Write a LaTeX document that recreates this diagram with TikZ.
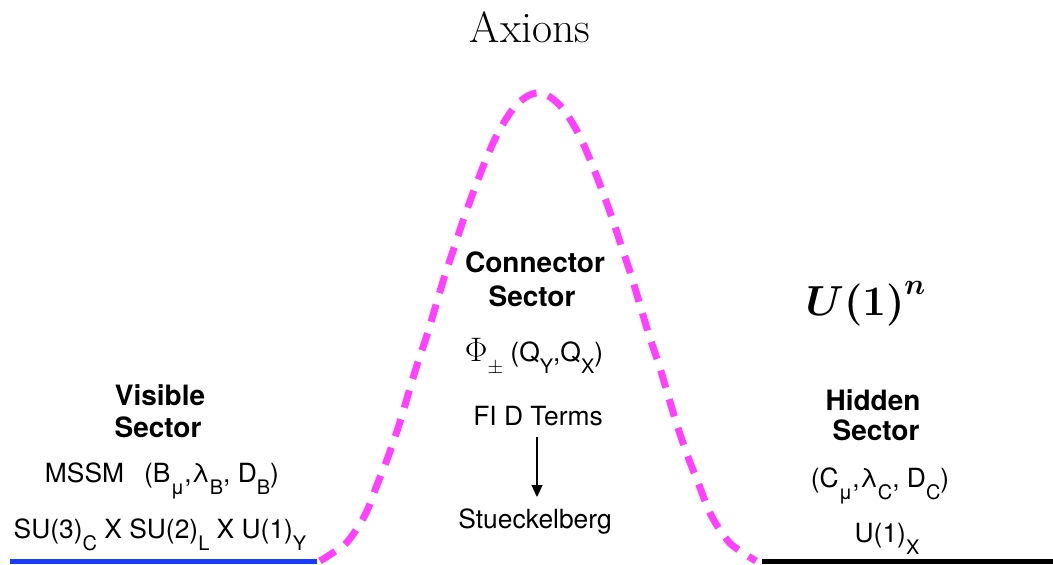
\documentclass[tikz,border=0pt]{standalone}
\usepackage{fix-cm}
\usepackage{bm}
\usepackage{fontspec}
\setsansfont{TeX Gyre Heros}
\usetikzlibrary{arrows.meta}
\definecolor{curvemag}{RGB}{255,64,255}
\definecolor{visblue}{RGB}{25,60,255}
\newcommand\lowsub[1]{\raisebox{-6pt}{\fontsize{10}{10}\selectfont #1}}
\begin{document}
\begin{tikzpicture}[x=0.5pt,y=-0.5pt,
  lbl/.style={font=\sffamily\fontsize{13.2}{15}\selectfont, inner sep=0pt, anchor=base},
  boldlbl/.style={font=\sffamily\bfseries\fontsize{14}{16}\selectfont, inner sep=0pt, anchor=base},
  arr/.style={-{Triangle[length=6pt,width=5.5pt]}, line width=0.6pt},
  hump/.style={curvemag, line width=3.5pt, dash pattern=on 9pt off 6pt},
  floor/.style={line width=2.5pt}]
\useasboundingbox (0,0) rectangle (1053,564);
% title
\node[anchor=base, inner sep=0pt, font=\fontsize{21.8}{25}\selectfont] (axions) at (530,42) {Axions};
% visible sector
\node[boldlbl] (vis1) at (160,405) {Visible};
\node[boldlbl] (vis2) at (158,437) {Sector};
\node[lbl] (mssm) at (162,482) {MSSM\hspace{10pt}(B\lowsub{μ},λ\lowsub{B}, D\lowsub{B})};
\node[lbl] (sm) at (160,538) {SU(3)\lowsub{C} X SU(2)\lowsub{L} X U(1)\lowsub{Y}};
% connector sector
\node[boldlbl] (con1) at (535,272) {Connector};
\node[boldlbl] (con2) at (532,306) {Sector};
\node[lbl] (phi) at (534,361) {{\fontsize{17}{17}\selectfont$\Phi$}\lowsub{$\pm$}\ (Q\lowsub{Y},Q\lowsub{X})};
\node[lbl] (fid) at (538,425) {FI D Terms};
\node[lbl] (stk) at (535,528) {Stueckelberg};
\coordinate (arrtop) at (537,437);
\coordinate (arrtip) at (537,497);
\draw[arr] (arrtop) -- (arrtip);
% hidden sector
\node[anchor=base, inner sep=0pt, font=\fontsize{21}{24}\selectfont] (un) at (866,315) {$\bm{U(1)^n}$};
\node[boldlbl] (hid1) at (873,410) {Hidden};
\node[boldlbl] (hid2) at (876,440) {Sector};
\node[lbl] (cfield) at (880,487) {(C\lowsub{μ},λ\lowsub{C}, D\lowsub{C})};
\node[lbl] (ux) at (887,542) {U(1)\lowsub{X}};
% floors
\draw[floor, visblue] (10,561) -- (317,561);
\draw[floor, black] (762,561) -- (1053,561);
% hump
\draw[hump] plot[smooth, tension=0.6] coordinates {
 (320,561) (334,552) (348,541) (365,515) (377,485) (388,457) (399,425) (408,395)
 (417,365) (427,335) (436,305) (445,275) (455,245) (465,215) (476,185) (487,157)
 (499,131) (513,109) (526,97) (538,93)
 (550,97) (563,109) (577,131) (589,157) (600,185) (611,215) (621,245) (631,275)
 (640,305) (649,335) (659,365) (668,395) (677,425) (688,457) (699,485) (711,515)
 (728,541) (742,552) (756,561)};
\end{tikzpicture}
\end{document}
